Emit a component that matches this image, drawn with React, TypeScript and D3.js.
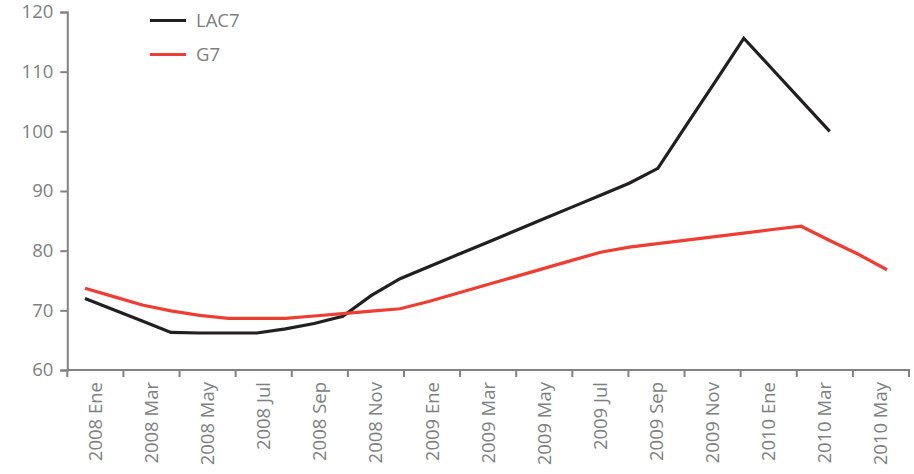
import React, { useEffect, useRef } from 'react';
import * as d3 from 'd3';

// tick labels on the x axis (one every two months)
const periodLabels = [
  '2008 Ene', '2008 Mar', '2008 May', '2008 Jul', '2008 Sep', '2008 Nov',
  '2009 Ene', '2009 Mar', '2009 May', '2009 Jul', '2009 Sep', '2009 Nov',
  '2010 Ene', '2010 Mar', '2010 May',
];

// monthly observations, Ene 2008 .. May 2010
const months = [
  '2008-01', '2008-02', '2008-03', '2008-04', '2008-05', '2008-06', '2008-07',
  '2008-08', '2008-09', '2008-10', '2008-11', '2008-12', '2009-01', '2009-02',
  '2009-03', '2009-04', '2009-05', '2009-06', '2009-07', '2009-08', '2009-09',
  '2009-10', '2009-11', '2009-12', '2010-01', '2010-02', '2010-03', '2010-04',
  '2010-05',
];

const lac7 = [
  72.0, 70.1, 68.2, 66.3, 66.2, 66.2, 66.2, 66.9, 67.8, 69.0, 72.5, 75.3,
  77.3, 79.3, 81.3, 83.3, 85.3, 87.3, 89.3, 91.3, 93.8, 101.1, 108.3, 115.6,
  110.4, 105.2, 100.0, null, null,
];

const g7 = [
  73.7, 72.3, 70.9, 69.9, 69.15, 68.66, 68.66, 68.66, 69.05, 69.46, 69.86,
  70.27, 71.48, 72.86, 74.24, 75.61, 76.99, 78.37, 79.74, 80.6, 81.18, 81.77,
  82.36, 82.95, 83.55, 84.1, 81.7, 79.4, 76.8,
];

const yTicks = [60, 70, 80, 90, 100, 110, 120];

const seriesNames = ['LAC7', 'G7'];
const seriesColors = ['#231f20', '#ee3d33'];

const App = () => {
  const ref = useRef<SVGSVGElement | null>(null);

  useEffect(() => {
    const width = 914;
    const height = 474;
    const left = 67.3;
    const right = 909;
    const top = 12;
    const bottom = 370;
    const axisColor = '#808285';
    const textColor = '#7d7f82';
    const font = '"Open Sans", "Noto Sans", sans-serif';
    const fontSize = '18.5px';

    const svg = d3.select(ref.current);
    svg.selectAll('*').remove();
    svg.attr('width', width).attr('height', height);

    const xBand = d3.scaleBand<string>().domain(periodLabels).range([left, right]);
    const x = d3.scaleLinear().domain([0, months.length - 1]).range([85, 887]);
    const y = d3.scaleLinear().domain([60, 120]).range([bottom, top]);

    // y axis
    const yAxis = svg.append('g')
      .attr('transform', `translate(${left},0)`)
      .call(d3.axisLeft(y).tickValues(yTicks).tickSize(7).tickPadding(7).tickSizeOuter(7));
    yAxis.attr('font-size', null).attr('font-family', null);
    yAxis.select('.domain').attr('stroke', axisColor).attr('stroke-width', 2);
    yAxis.selectAll('.tick line').attr('stroke', axisColor).attr('stroke-width', 2);
    yAxis.selectAll('.tick text')
      .attr('fill', textColor)
      .style('font-family', font)
      .style('font-size', fontSize);

    // x axis: ticks at band boundaries, labels rotated at band centers
    const xg = svg.append('g');
    xg.append('line')
      .attr('x1', left - 1).attr('x2', right + 1)
      .attr('y1', bottom).attr('y2', bottom)
      .attr('stroke', axisColor).attr('stroke-width', 2);
    const bounds = periodLabels.map(p => xBand(p) as number).concat([right]);
    xg.selectAll('line.tk')
      .data(bounds)
      .enter()
      .append('line')
      .attr('class', 'tk')
      .attr('x1', d => d).attr('x2', d => d)
      .attr('y1', bottom).attr('y2', bottom + 7)
      .attr('stroke', axisColor).attr('stroke-width', 2);
    xg.selectAll('text')
      .data(periodLabels)
      .enter()
      .append('text')
      .attr('transform', d => `translate(${(xBand(d) as number) + xBand.bandwidth() / 2},${bottom + 12}) rotate(-90)`)
      .attr('dy', '0.35em')
      .attr('text-anchor', 'end')
      .attr('fill', textColor)
      .style('font-family', font)
      .style('font-size', fontSize)
      .text(d => d);

    // lines
    const line = d3.line<number | null>()
      .defined(d => d !== null)
      .x((_, i) => x(i))
      .y(d => y(d as number));

    [lac7, g7].forEach((s, i) => {
      svg.append('path')
        .datum(s)
        .attr('d', line)
        .attr('fill', 'none')
        .attr('stroke', seriesColors[i])
        .attr('stroke-width', 3.2)
        .attr('stroke-linejoin', 'miter');
    });

    // legend
    const legend = svg.append('g').attr('transform', 'translate(150,20.5)');
    seriesNames.forEach((name, i) => {
      const row = legend.append('g').attr('transform', `translate(0,${i * 34})`);
      row.append('line')
        .attr('x1', 0).attr('x2', 36)
        .attr('stroke', seriesColors[i]).attr('stroke-width', 3.2);
      row.append('text')
        .attr('x', 46).attr('dy', '0.35em')
        .attr('fill', textColor)
        .style('font-family', font)
        .style('font-size', fontSize)
        .text(name);
    });
  }, []);

  return (
    <svg ref={ref} style={{ position: 'absolute', left: 0, top: 0 }} />
  );
};

export default App;
